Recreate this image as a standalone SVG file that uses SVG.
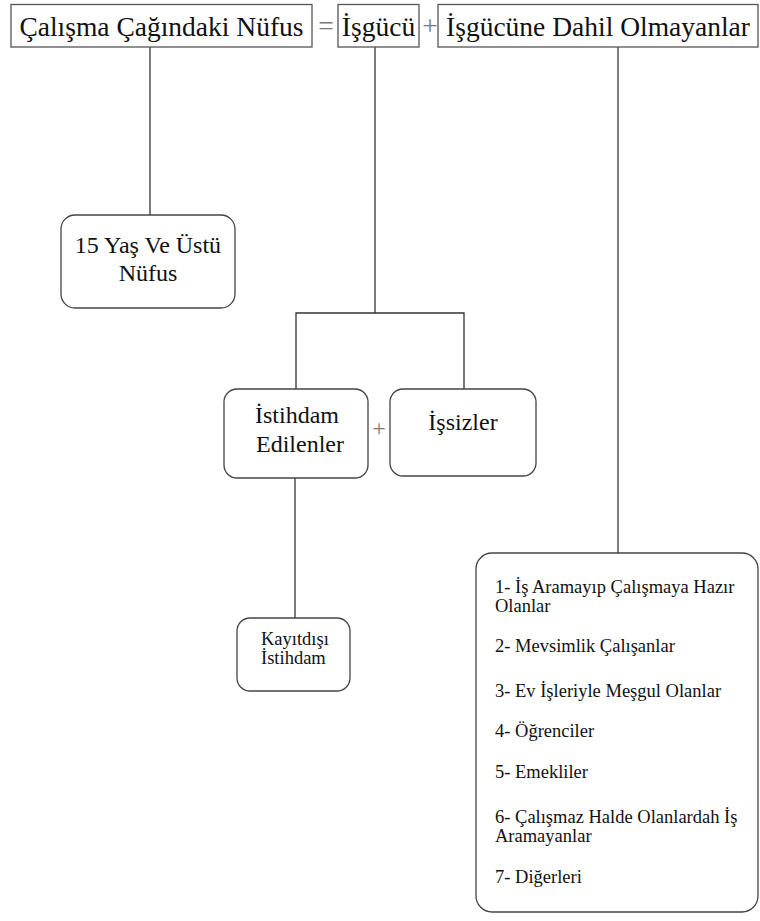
<svg xmlns="http://www.w3.org/2000/svg" width="760" height="921" viewBox="0 0 760 921">
<style>
.bx{fill:#fff;stroke:#555;stroke-width:1.3}
.rb{fill:#fff;stroke:#444;stroke-width:1.3}
.ln{fill:none;stroke:#333;stroke-width:1.3}
.op{fill:#777}
</style>
<rect width="760" height="921" fill="#fff"/>
<g id="connectors">
<path class="ln" d="M150,47V215"/>
<path class="ln" d="M375,47V313M296,390V313H464V389"/>
<path class="ln" d="M295,478V618"/>
<path class="ln" d="M618,47V553"/>
</g>
<g fill="#111">
<g id="n-calisma">
<rect class="bx" x="11" y="4.5" width="301" height="42.5"/>
<text font-family="Liberation Serif" font-size="27.5" x="161.5" y="36" text-anchor="middle">Çalışma Çağındaki Nüfus</text>
</g>
<text class="op" font-family="Liberation Serif" font-size="27.5" x="326" y="35" text-anchor="middle">=</text>
<g id="n-isgucu">
<rect class="bx" x="338" y="4.5" width="81" height="42.5"/>
<text font-family="Liberation Serif" font-size="27.5" x="378.5" y="36" text-anchor="middle">İşgücü</text>
</g>
<text class="op" font-family="Liberation Serif" font-size="27.5" x="430" y="35" text-anchor="middle">+</text>
<g id="n-dahil">
<rect class="bx" x="438" y="4.5" width="320" height="42.5"/>
<text font-family="Liberation Serif" font-size="27.5" x="598" y="36" text-anchor="middle">İşgücüne Dahil Olmayanlar</text>
</g>
<g id="n-15yas">
<rect class="rb" x="61" y="215" width="174" height="93" rx="14"/>
<text font-family="Liberation Serif" font-size="24" x="148" y="253" text-anchor="middle">15 Yaş Ve Üstü</text>
<text font-family="Liberation Serif" font-size="24" x="148" y="281" text-anchor="middle">Nüfus</text>
</g>
<g id="n-istihdam">
<rect class="rb" x="224" y="389" width="144" height="89" rx="13"/>
<text font-family="Liberation Serif" font-size="24" x="297" y="423" text-anchor="middle">İstihdam</text>
<text font-family="Liberation Serif" font-size="24" x="300" y="452" text-anchor="middle">Edilenler</text>
</g>
<text class="op" font-family="Liberation Serif" font-size="24" x="379" y="436" text-anchor="middle">+</text>
<g id="n-issizler">
<rect class="rb" x="390" y="389" width="146" height="87" rx="13"/>
<text font-family="Liberation Serif" font-size="24" x="463" y="430" text-anchor="middle">İşsizler</text>
</g>
<g id="n-kayitdisi">
<rect class="rb" x="237" y="618" width="113" height="73" rx="13"/>
<text font-family="Liberation Serif" font-size="18.5" x="261" y="645">Kayıtdışı</text>
<text font-family="Liberation Serif" font-size="18.5" x="261" y="664">İstihdam</text>
</g>
<g id="n-liste">
<rect class="rb" x="476" y="553" width="282" height="359" rx="16"/>
<text font-family="Liberation Serif" font-size="18.5" x="495" y="593">1- İş Aramayıp Çalışmaya Hazır</text>
<text font-family="Liberation Serif" font-size="18.5" x="495" y="612">Olanlar</text>
<text font-family="Liberation Serif" font-size="18.5" x="495" y="652">2- Mevsimlik Çalışanlar</text>
<text font-family="Liberation Serif" font-size="18.5" x="495" y="697">3- Ev İşleriyle Meşgul Olanlar</text>
<text font-family="Liberation Serif" font-size="18.5" x="495" y="737">4- Öğrenciler</text>
<text font-family="Liberation Serif" font-size="18.5" x="495" y="778">5- Emekliler</text>
<text font-family="Liberation Serif" font-size="18.5" x="495" y="823">6- Çalışmaz Halde Olanlardah İş</text>
<text font-family="Liberation Serif" font-size="18.5" x="495" y="842">Aramayanlar</text>
<text font-family="Liberation Serif" font-size="18.5" x="495" y="883">7- Diğerleri</text>
</g>
</g>
</svg>
